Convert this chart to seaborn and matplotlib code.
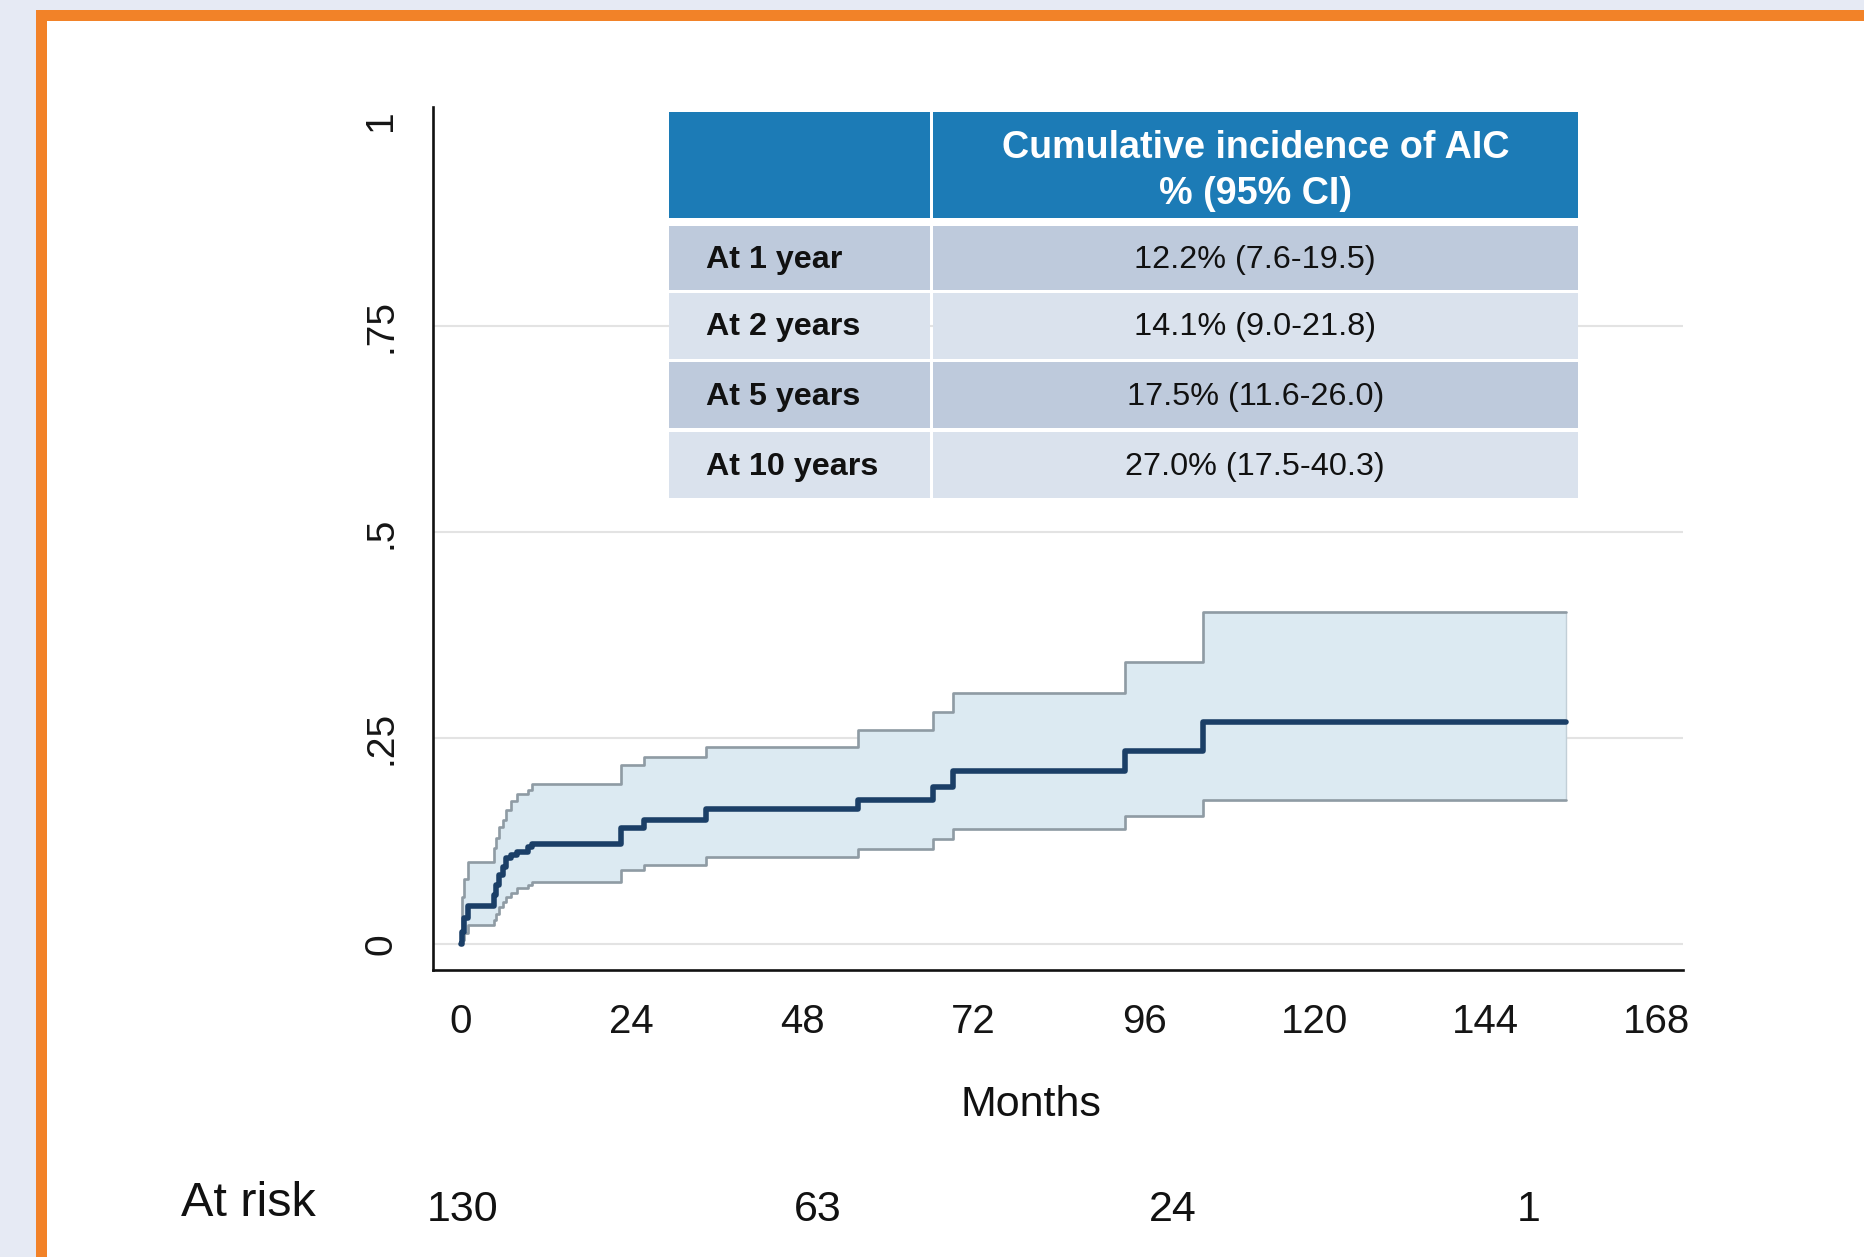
import matplotlib
matplotlib.use("Agg")
import matplotlib.pyplot as plt
from matplotlib.patches import Rectangle
import seaborn as sns

# Cumulative incidence of AIC: event times (months), estimate and 95% CI
months = [0, 0.2, 0.5, 1.0, 4.6, 5.0, 5.4, 5.9, 6.4, 7.0, 7.9, 9.4, 10.0,
          22.5, 25.7, 34.5, 55.8, 66.3, 69.2, 93.3, 104.3, 155.3]
cif = [0, 0.015, 0.032, 0.047, 0.060, 0.072, 0.084, 0.094, 0.105, 0.109, 0.1125,
       0.118, 0.122, 0.141, 0.151, 0.164, 0.175, 0.191, 0.210, 0.235, 0.270, 0.270]
ci_upper = [0, 0.058, 0.080, 0.100, 0.117, 0.129, 0.143, 0.151, 0.163, 0.174, 0.183,
            0.188, 0.195, 0.218, 0.228, 0.240, 0.260, 0.282, 0.305, 0.343, 0.403, 0.403]
ci_lower = [0, 0.006, 0.014, 0.0235, 0.030, 0.037, 0.046, 0.052, 0.057, 0.062, 0.068,
            0.072, 0.076, 0.090, 0.096, 0.106, 0.116, 0.128, 0.140, 0.156, 0.175, 0.175]

x_ticks = [0, 24, 48, 72, 96, 120, 144, 168]
y_ticks = [0, 0.25, 0.5, 0.75, 1]
y_tick_labels = ["0", ".25", ".5", ".75", "1"]
grid_levels = [0, 0.25, 0.5, 0.75]

risk_months = [0, 48, 96, 144]
at_risk = [130, 63, 24, 1]

table_header = ["Cumulative incidence of AIC", "% (95% CI)"]
table_rows = ["At 1 year", "At 2 years", "At 5 years", "At 10 years"]
table_values = ["12.2% (7.6-19.5)", "14.1% (9.0-21.8)",
                "17.5% (11.6-26.0)", "27.0% (17.5-40.3)"]

sns.set_style("white")
plt.rcParams["font.family"] = ["Liberation Sans", "DejaVu Sans"]

W, H = 1865, 1257
fig = plt.figure(figsize=(W / 100, H / 100), dpi=100)
fig.patch.set_facecolor("#E6EAF4")


def fig_box(x0, y0, x1, y1):
    """Pixel box (top-left origin) -> figure fraction rect."""
    return [x0 / W, (H - y1) / H, (x1 - x0) / W, (y1 - y0) / H]


# Orange framed panel behind everything
bg = fig.add_axes([0, 0, 1, 1], zorder=-5)
bg.set_xlim(0, W)
bg.set_ylim(H, 0)
bg.axis("off")
bg.add_patch(Rectangle((36, 10), W + 100, H + 100, fc="#F28228", ec="none"))
bg.add_patch(Rectangle((46.5, 21), W + 100, H + 100, fc="white", ec="none"))

# Main plot
ax = fig.add_axes(fig_box(433, 106.7, 1683, 970))
ax.set_facecolor("none")
ax.set_xlim(-3.9, 171.7)
ax.set_ylim(-0.031, 1.0166)

for lvl in grid_levels:
    ax.axhline(lvl, color="#E3E3E3", lw=1.5, zorder=0)

ax.fill_between(months, ci_lower, ci_upper, step="post", facecolor="#DCEAF2",
                edgecolor="#C2CFD7", lw=1.0, zorder=1)
sns.lineplot(x=months, y=ci_upper, drawstyle="steps-post", estimator=None, sort=False,
             color="#8F9BA4", lw=1.9, ax=ax, zorder=2)
sns.lineplot(x=months, y=ci_lower, drawstyle="steps-post", estimator=None, sort=False,
             color="#8F9BA4", lw=1.9, ax=ax, zorder=2)
sns.lineplot(x=months, y=cif, drawstyle="steps-post", estimator=None, sort=False,
             color="#1B3F67", lw=4.0, ax=ax, zorder=3)

for side in ["top", "right"]:
    ax.spines[side].set_visible(False)
for side in ["left", "bottom"]:
    ax.spines[side].set_color("#111111")
    ax.spines[side].set_linewidth(1.9)

ax.set_xticks(x_ticks)
ax.set_xticklabels([str(t) for t in x_ticks])
ax.set_yticks(y_ticks)
ax.set_yticklabels(y_tick_labels, rotation=90, ha="center", va="center")
ax.tick_params(axis="x", direction="out", length=13.5, width=1.8, color="#111111",
               labelsize=29, labelcolor="#151515", pad=10.5)
ax.tick_params(axis="y", direction="out", length=9.4, width=1.8, color="#111111",
               labelsize=28, labelcolor="#151515", pad=28)
ax.set_xlabel("")
ax.set_ylabel("")

fig.text(1031 / W, 1 - 1105 / H, "Months", ha="center", va="center",
         fontsize=31, color="#111111")

# Number at risk row
fig.text(248 / W, 1 - 1204 / H, "At risk", ha="center", va="center",
         fontsize=35, color="#111111")
ax_r = fig.add_axes(fig_box(462.7, 1180, 1528.3, 1240))
ax_r.set_xlim(0, 144)
ax_r.set_ylim(0, 1)
ax_r.axis("off")
for m, n in zip(risk_months, at_risk):
    ax_r.text(m, 0.5, str(n), ha="center", va="center", fontsize=31, color="#111111")

# Summary table overlay
tab = fig.add_axes([0, 0, 1, 1], zorder=5)
tab.set_xlim(0, W)
tab.set_ylim(H, 0)
tab.axis("off")
tab.patch.set_alpha(0)

col_left = (669, 929.5)
col_right = (932.5, 1578)
header_span = (112, 218)
row_spans = [(226, 289.5), (292.5, 358.5), (361.5, 428), (431.5, 498)]
row_colors = ["#BECADC", "#DAE2ED", "#BECADC", "#DAE2ED"]
header_color = "#1C7BB6"

for x0, x1 in (col_left, col_right):
    tab.add_patch(Rectangle((x0, header_span[0]), x1 - x0, header_span[1] - header_span[0],
                            fc=header_color, ec="none"))
cx = (col_right[0] + col_right[1]) / 2
tab.text(cx, 147.5, table_header[0], ha="center", va="center", fontsize=27.2,
         fontweight="bold", color="white")
tab.text(cx, 193.5, table_header[1], ha="center", va="center", fontsize=27.2,
         fontweight="bold", color="white")

for (y0, y1), color, label, value in zip(row_spans, row_colors, table_rows, table_values):
    for x0, x1 in (col_left, col_right):
        tab.add_patch(Rectangle((x0, y0), x1 - x0, y1 - y0, fc=color, ec="none"))
    yc = (y0 + y1) / 2 + 2
    tab.text(706, yc, label, ha="left", va="center", fontsize=23.2,
             fontweight="bold", color="#111111")
    tab.text(cx, yc, value, ha="center", va="center", fontsize=23.3, color="#111111")

fig.savefig("out.png", dpi=100, facecolor=fig.get_facecolor())
